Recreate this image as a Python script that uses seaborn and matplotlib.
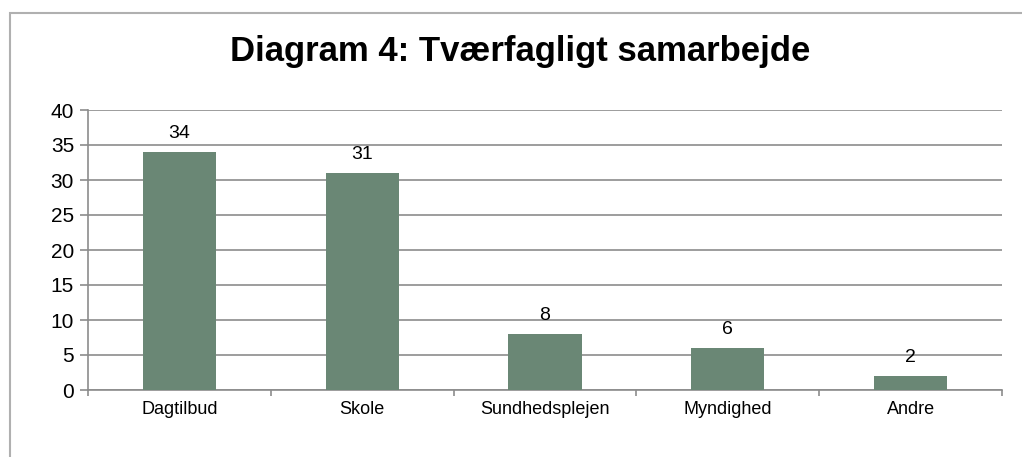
import matplotlib
matplotlib.use("Agg")
import matplotlib.pyplot as plt
import seaborn as sns
import pandas as pd
from matplotlib.patches import Rectangle

categories = ["Dagtilbud", "Skole", "Sundhedsplejen", "Myndighed", "Andre"]
values = [34, 31, 8, 6, 2]
y_ticks = [0, 5, 10, 15, 20, 25, 30, 35, 40]
title = "Diagram 4: Tværfagligt samarbejde"

bar_color = "#6a8775"
grid_color = "#8c8c8c"

sns.set_theme(style="white")
plt.rcParams["font.family"] = ["Liberation Sans", "DejaVu Sans"]
plt.rcParams["text.color"] = "black"

df = pd.DataFrame({"kategori": categories, "antal": values})

fig = plt.figure(figsize=(10.22, 4.57), dpi=100)
ax = fig.add_axes([88 / 1022, 1 - 390 / 457, (1002 - 88) / 1022, 280 / 457])

sns.barplot(data=df, x="kategori", y="antal", color=bar_color, width=0.4,
            saturation=1, linewidth=0, ax=ax, zorder=3)

ax.set_ylim(0, 40)
ax.set_xlim(-0.5, len(categories) - 0.5)
ax.set_yticks(y_ticks)
ax.yaxis.grid(True, color=grid_color, linewidth=1.2, zorder=0)
ax.set_axisbelow(True)
ax.set_xlabel("")
ax.set_ylabel("")

for s in ["top", "right"]:
    ax.spines[s].set_visible(False)
for s in ["left", "bottom"]:
    ax.spines[s].set_color(grid_color)
    ax.spines[s].set_linewidth(1.2)

ax.tick_params(axis="y", labelsize=15, length=6, width=1.2, color=grid_color,
               left=True, pad=4, labelcolor="black")
ax.set_xticks(range(len(categories)))
ax.set_xticklabels(categories)
ax.tick_params(axis="x", which="major", length=0, labelsize=13, pad=8,
               labelcolor="black")
ax.set_xticks([i + 0.5 for i in range(-1, len(categories))], minor=True)
ax.tick_params(axis="x", which="minor", length=4, width=1.2, color=grid_color,
               bottom=True)

for c in ax.containers:
    ax.bar_label(c, labels=[str(v) for v in values], padding=7, fontsize=14,
                 color="black")

fig.text(520 / 1022, 1 - 52 / 457, title, ha="center", va="center",
         fontsize=25, fontweight="bold", color="black")

fig.patches.append(Rectangle((10 / 1022, -0.1), 1.2, 1.1 - 13 / 457,
                             transform=fig.transFigure, fill=False,
                             edgecolor="#b0b0b0", linewidth=1.5))

fig.savefig("out.png", dpi=100)
